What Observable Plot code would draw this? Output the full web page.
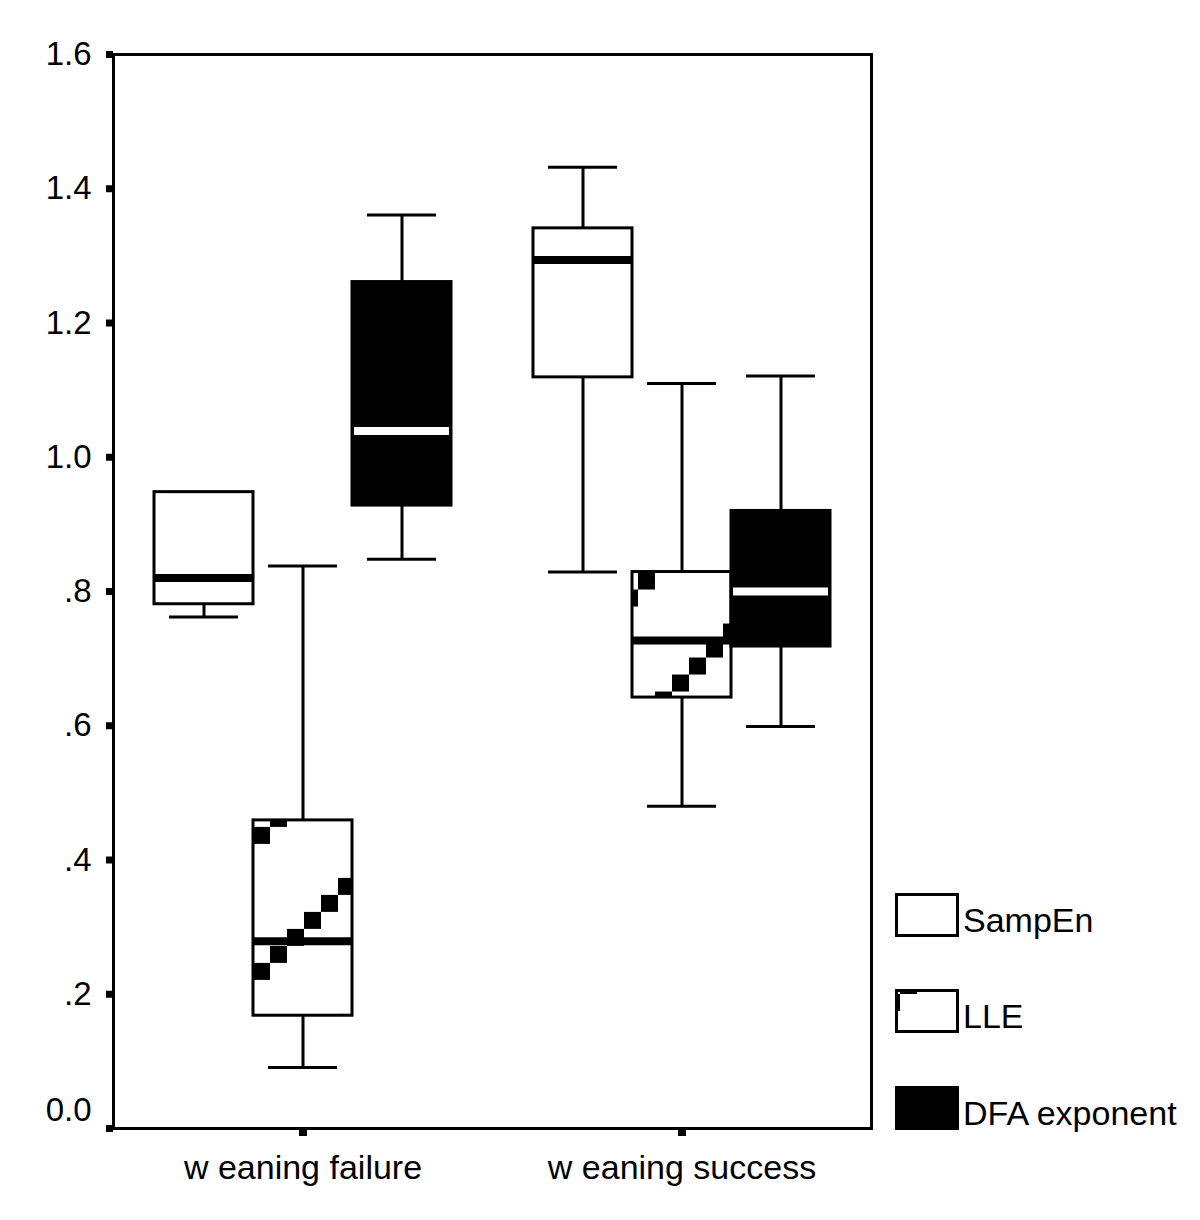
<!DOCTYPE html>
<html><head><meta charset="utf-8">
<script src="https://cdn.jsdelivr.net/npm/d3@7"></script>
<script src="https://cdn.jsdelivr.net/npm/@observablehq/plot@0.6"></script>
<style>
body{margin:0;background:#fff;}
#wrap{position:relative;width:1200px;height:1220px;font-family:"Liberation Sans",Arial,sans-serif;color:#000;}
#wrap > svg{position:absolute;left:0;top:0;}
.swatch{position:absolute;}
.ltext{position:absolute;font-size:34px;line-height:34px;white-space:nowrap;}
</style></head><body><div id="wrap"></div>
<script>
// ---- data ----
const groups = ["w eaning failure", "w eaning success"];
const series = ["SampEn", "LLE", "DFA exponent"];
// order: failure SampEn, failure LLE, failure DFA, success SampEn, success LLE, success DFA
const lowWhisker  = [0.762, 0.091, 0.848, 0.829, 0.480, 0.599];
const q1          = [0.781, 0.168, 0.928, 1.119, 0.642, 0.718];
const median      = [0.820, 0.279, 1.039, 1.294, 0.727, 0.800];
const q3          = [0.948, 0.459, 1.261, 1.341, 0.829, 0.920];
const highWhisker = [0.948, 0.838, 1.361, 1.432, 1.110, 1.121];
const yTicks = [0, 0.2, 0.4, 0.6, 0.8, 1.0, 1.2, 1.4, 1.6];
const yTickLabels = ["0.0", ".2", ".4", ".6", ".8", "1.0", "1.2", "1.4", "1.6"];

const rows = groups.flatMap((g, gi) => series.map((s, si) => {
  const k = gi * 3 + si;
  return {group: g, gi, series: s, low: lowWhisker[k], q1: q1[k], median: median[k], q3: q3[k], high: highWhisker[k]};
}));
const fmt = d => yTickLabels[yTicks.indexOf(d)];
const F = "Liberation Sans, Arial, sans-serif";
const common = {fx: "group", x: "series"};

const chart = Plot.plot({
  width: 1200, height: 1220,
  marginTop: 54, marginBottom: 92, marginLeft: 112, marginRight: 329,
  style: {fontFamily: F, fontSize: "32px", background: "white", color: "black"},
  fx: {domain: groups, padding: 0, label: null},
  x: {domain: series, paddingInner: 0, paddingOuter: 0.3975, axis: null},
  y: {domain: [0, 1.6]},
  marks: [
    Plot.frame({anchor: "top", stroke: "black", strokeWidth: 3}),
    Plot.frame({anchor: "bottom", stroke: "black", strokeWidth: 3}),
    Plot.frame({anchor: "left", facetAnchor: "left", stroke: "black", strokeWidth: 3}),
    Plot.frame({anchor: "right", facetAnchor: "right", stroke: "black", strokeWidth: 3}),
    Plot.ruleX(rows, {...common, y1: "low", y2: "high", stroke: "black", strokeWidth: 3}),
    Plot.tickY(rows, {...common, y: "low", stroke: "black", strokeWidth: 3, inset: 15}),
    Plot.tickY(rows, {...common, y: "high", stroke: "black", strokeWidth: 3, inset: 15}),
    Plot.barY(rows.filter(d => d.series === "SampEn"), {...common, y1: "q1", y2: "q3", fill: "white", stroke: "black", strokeWidth: 3}),
    Plot.barY(rows.filter(d => d.series === "LLE" && d.gi === 0), {...common, y1: "q1", y2: "q3", fill: "url(#lle-0)", stroke: "black", strokeWidth: 3}),
    Plot.barY(rows.filter(d => d.series === "LLE" && d.gi === 1), {...common, y1: "q1", y2: "q3", fill: "url(#lle-1)", stroke: "black", strokeWidth: 3}),
    Plot.barY(rows.filter(d => d.series === "DFA exponent"), {...common, y1: "q1", y2: "q3", fill: "black", stroke: "black", strokeWidth: 3}),
    Plot.tickY(rows.filter(d => d.series !== "DFA exponent"), {...common, y: "median", stroke: "black", strokeWidth: 8}),
    Plot.tickY(rows.filter(d => d.series === "DFA exponent"), {...common, y: "median", stroke: "white", strokeWidth: 8, inset: 2}),
    Plot.axisY({ticks: yTicks, tickSize: 7, stroke: "black", strokeWidth: 7, fill: "none", label: null}),
    Plot.axisY({ticks: yTicks.filter(d => d !== 0), tickSize: 0, tickPadding: 22, tickFormat: fmt, fontSize: 33, fill: "black", label: null}),
    Plot.axisY({ticks: [0], tickSize: 0, tickPadding: 22, tickFormat: fmt, fontSize: 33, fill: "black", dy: -18, label: null}),
    Plot.axisFx({anchor: "bottom", tickSize: 8, stroke: "black", strokeWidth: 8, tickPadding: 18, fontSize: 34, fill: "black", label: null})
  ]
});

// LLE fill pattern (staircase of black squares), anchored to each box
const xS = chart.scale("x"), yS = chart.scale("y");
const defs = d3.select(chart).insert("defs", ":first-child");
function addPattern(sel, id, px, py) {
  const p = sel.append("pattern").attr("id", id).attr("patternUnits", "userSpaceOnUse")
    .attr("width", 136).attr("height", 136).attr("x", px).attr("y", py);
  p.append("rect").attr("width", 136).attr("height", 136).attr("fill", "white");
  for (let i = 0; i < 8; i++) {
    p.append("rect").attr("x", 17 * i).attr("y", 17 * (7 - i)).attr("width", 17).attr("height", 17).attr("fill", "black");
  }
}
const offs = [[0, 24], [6, 18]];
[0, 1].forEach(gi => {
  addPattern(defs, `lle-${gi}`, xS.apply("LLE") + offs[gi][0], yS.apply(q3[gi * 3 + 1]) + offs[gi][1]);
});

const wrap = d3.select("#wrap");
wrap.node().appendChild(chart);

// legend
const legendTops = [893, 989, 1086];
series.forEach((s, i) => {
  const sw = wrap.append("svg").attr("class", "swatch").attr("width", 64).attr("height", 46)
    .style("left", "895px").style("top", legendTops[i] + "px");
  let fill = i === 0 ? "white" : i === 2 ? "black" : "url(#lle-legend)";
  if (i === 1) addPattern(sw.append("defs"), "lle-legend", 5, 5);
  sw.append("rect").attr("x", 1.5).attr("y", 1.5).attr("width", 61).attr("height", 41)
    .attr("fill", fill).attr("stroke", "black").attr("stroke-width", 3);
  wrap.append("div").attr("class", "ltext").style("left", "963px").style("top", (legendTops[i] + 10) + "px").text(s);
});
</script></body></html>
